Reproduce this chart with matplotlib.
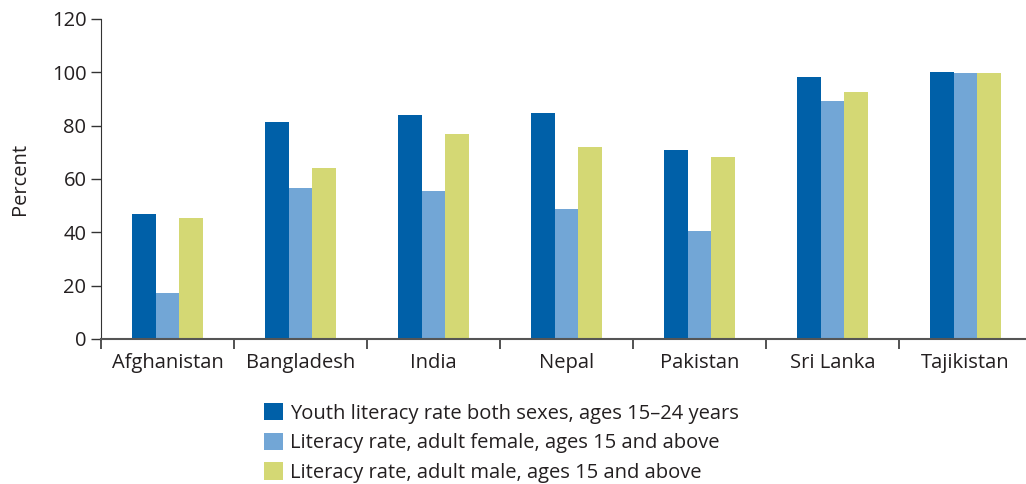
import matplotlib.pyplot as plt
import numpy as np

# ---------------- Data ----------------

countries = ["Afghanistan", "Bangladesh", "India", "Nepal", "Pakistan", "Sri Lanka", "Tajikistan"]
youthBoth = [46.9, 81.5, 84.1, 84.8, 70.9, 98.3, 100.2]
adultFemale = [17.3, 56.7, 55.6, 48.8, 40.5, 89.3, 99.8]
adultMale = [45.4, 64.2, 77.0, 72.1, 68.3, 92.7, 99.8]

seriesLabels = [
    "Youth literacy rate both sexes, ages 15\u201324 years",
    "Literacy rate, adult female, ages 15 and above",
    "Literacy rate, adult male, ages 15 and above",
]
colors = ["#0060A8", "#72A6D6", "#D4D874"]

plt.rcParams['font.family'] = ['Open Sans', 'DejaVu Sans']
fs = 14.5

# ---------------- Plot ----------------

fig = plt.figure(figsize=(10.26, 4.84), dpi=100)
ax = fig.add_axes([101 / 1026, 1 - 339 / 484, 931 / 1026, 320 / 484])

x = np.arange(len(countries))
width = 0.18
for i, vals in enumerate([youthBoth, adultFemale, adultMale]):
    ax.bar(x + (i - 1) * width, vals, width, color=colors[i], label=seriesLabels[i])

ax.set_xlim(-0.5, len(countries) - 0.5)
ax.set_ylim(0, 120)
ax.set_yticks(range(0, 121, 20))
ax.set_xticks(x)
ax.set_xticklabels(countries)
ax.set_xticks(np.arange(-0.5, len(countries) + 0.5, 1), minor=True)
ax.tick_params(axis='x', which='major', length=0, pad=10, labelsize=fs, colors='#231f20')
ax.tick_params(axis='x', which='minor', length=7, width=1.2, color='#333333')
ax.tick_params(axis='y', length=7, width=1.0, labelsize=fs, colors='#231f20', color='#333333')

for side in ['top', 'right']:
    ax.spines[side].set_visible(False)
ax.spines['left'].set_color('#333333')
ax.spines['bottom'].set_color('#555555')
ax.spines['bottom'].set_linewidth(1.5)

ax.set_ylabel('Percent', fontsize=fs, color='#231f20', labelpad=16)

fig.legend(loc='upper left', bbox_to_anchor=(256 / 1026, 1 - 395 / 484), frameon=False,
           fontsize=fs, handlelength=0.95, handleheight=0.95, handletextpad=0.35,
           labelspacing=0.45, borderaxespad=0, labelcolor='#231f20')

fig.savefig('out.png', dpi=100)
